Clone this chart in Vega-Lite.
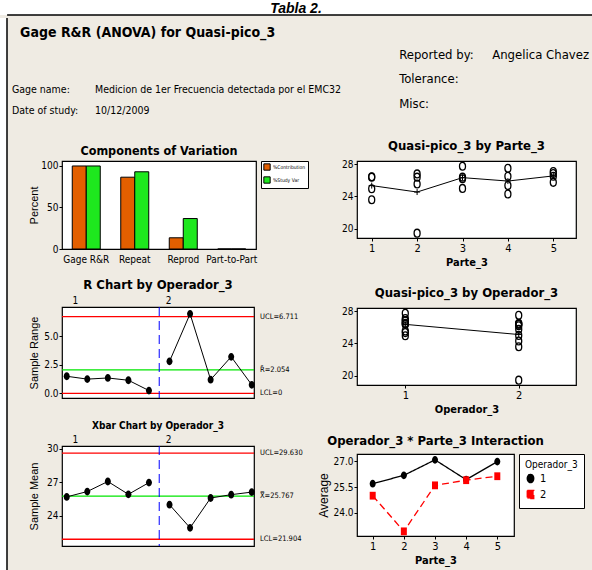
{
  "$schema": "https://vega.github.io/schema/vega-lite/v6.json",
  "padding": 0,
  "background": "#EFEBE3",
  "spacing": 0,
  "resolve": {"scale": {"color": "independent", "shape": "independent", "strokeDash": "independent"}},
  "datasets": {
    "comp": [
      {"component": "Gage R&R", "measure": "%Contribution", "percent": 100},
      {"component": "Gage R&R", "measure": "%Study Var", "percent": 100},
      {"component": "Repeat", "measure": "%Contribution", "percent": 86.5},
      {"component": "Repeat", "measure": "%Study Var", "percent": 93.0},
      {"component": "Reprod", "measure": "%Contribution", "percent": 13.5},
      {"component": "Reprod", "measure": "%Study Var", "percent": 36.7},
      {"component": "Part-to-Part", "measure": "%Contribution", "percent": 0},
      {"component": "Part-to-Part", "measure": "%Study Var", "percent": 0}
    ],
    "meas": [
      {"op": 1, "part": 1, "value": 24.95}, {"op": 1, "part": 1, "value": 26.45},
      {"op": 1, "part": 2, "value": 25.55}, {"op": 1, "part": 2, "value": 26.8},
      {"op": 1, "part": 3, "value": 26.4}, {"op": 1, "part": 3, "value": 27.75},
      {"op": 1, "part": 4, "value": 25.35}, {"op": 1, "part": 4, "value": 26.5},
      {"op": 1, "part": 5, "value": 26.85}, {"op": 1, "part": 5, "value": 27.1},
      {"op": 2, "part": 1, "value": 23.6}, {"op": 2, "part": 1, "value": 26.4},
      {"op": 2, "part": 2, "value": 19.45}, {"op": 2, "part": 2, "value": 26.4},
      {"op": 2, "part": 3, "value": 25.0}, {"op": 2, "part": 3, "value": 26.2},
      {"op": 2, "part": 4, "value": 24.3}, {"op": 2, "part": 4, "value": 27.5},
      {"op": 2, "part": 5, "value": 25.75}, {"op": 2, "part": 5, "value": 26.5}
    ],
    "summ": [
      {"op": 1, "part": 1, "idx": 1, "mean": 25.7, "range": 1.5},
      {"op": 1, "part": 2, "idx": 2, "mean": 26.18, "range": 1.25},
      {"op": 1, "part": 3, "idx": 3, "mean": 27.08, "range": 1.35},
      {"op": 1, "part": 4, "idx": 4, "mean": 25.93, "range": 1.15},
      {"op": 1, "part": 5, "idx": 5, "mean": 26.98, "range": 0.25},
      {"op": 2, "part": 1, "idx": 6, "mean": 25.0, "range": 2.8},
      {"op": 2, "part": 2, "idx": 7, "mean": 22.93, "range": 6.95},
      {"op": 2, "part": 3, "idx": 8, "mean": 25.6, "range": 1.2},
      {"op": 2, "part": 4, "idx": 9, "mean": 25.9, "range": 3.2},
      {"op": 2, "part": 5, "idx": 10, "mean": 26.13, "range": 0.75}
    ],
    "limR": [
      {"limit": "UCL", "value": 6.711, "label": "UCL=6.711"},
      {"limit": "Center", "value": 2.054, "label": "R̄=2.054"},
      {"limit": "LCL", "value": 0, "label": "LCL=0"}
    ],
    "limX": [
      {"limit": "UCL", "value": 29.63, "label": "UCL=29.630"},
      {"limit": "Center", "value": 25.767, "label": "X̿=25.767"},
      {"limit": "LCL", "value": 21.904, "label": "LCL=21.904"}
    ],
    "bound": [{"idx": 5.5}]
  },
  "vconcat": [
    {
      "width": 592,
      "height": 15,
      "view": {"fill": "white", "stroke": null},
      "data": {"values": [{"t": "Tabla 2."}]},
      "layer": [
        {
          "mark": {"type": "text", "fontSize": 14, "fontWeight": "bold", "fontStyle": "italic", "font": "Liberation Sans", "baseline": "alphabetic"},
          "encoding": {
            "text": {"field": "t"},
            "x": {"datum": 0.5, "type": "quantitative", "scale": {"domain": [0, 1]}, "axis": null},
            "y": {"datum": 0.12, "type": "quantitative", "scale": {"domain": [0, 1]}, "axis": null}
          }
        },
        {
          "mark": {"type": "rule", "color": "black", "strokeWidth": 1.5},
          "encoding": {
            "x": {"datum": 0.012, "type": "quantitative"},
            "x2": {"datum": 1},
            "y": {"datum": 0, "type": "quantitative"}
          }
        }
      ]
    },
    {
      "spacing": 0,
      "resolve": {"scale": {"color": "independent", "shape": "independent", "strokeDash": "independent"}},
      "hconcat": [
        {
          "width": 7,
          "height": 555,
          "view": {"fill": "white", "stroke": null},
          "data": {"values": [{}]},
          "mark": {"type": "rule", "color": "black", "strokeWidth": 1.5},
          "encoding": {
            "x": {"datum": 1, "type": "quantitative", "scale": {"domain": [0, 1]}, "axis": null},
            "y": {"datum": 0, "type": "quantitative", "scale": {"domain": [0, 1]}, "axis": null},
            "y2": {"datum": 1}
          }
        },
        {
          "spacing": 3,
          "resolve": {"scale": {"color": "independent", "shape": "independent", "strokeDash": "independent"}},
          "vconcat": [
            {
              "width": 585,
              "height": 118,
              "view": {"fill": null, "stroke": null},
              "data": {"values": [{}]},
              "encoding": {
                "x": {"datum": 0, "type": "quantitative", "scale": {"domain": [0, 100]}, "axis": null},
                "y": {"datum": 0, "type": "quantitative", "scale": {"domain": [0, 100], "reverse": true}, "axis": null}
              },
              "layer": [
                {"mark": {"type": "text", "align": "left", "baseline": "middle", "fontSize": 14, "fontWeight": "bold"},
                 "encoding": {"text": {"value": "Gage R&R (ANOVA) for Quasi-pico_3"}, "x": {"datum": 1.9}, "y": {"datum": 12.5}}},
                {"mark": {"type": "text", "align": "left", "baseline": "middle", "fontSize": 13},
                 "encoding": {"text": {"value": "Reported by:"}, "x": {"datum": 66.7}, "y": {"datum": 31}}},
                {"mark": {"type": "text", "align": "left", "baseline": "middle", "fontSize": 13},
                 "encoding": {"text": {"value": "Angelica Chavez"}, "x": {"datum": 82.6}, "y": {"datum": 31}}},
                {"mark": {"type": "text", "align": "left", "baseline": "middle", "fontSize": 13},
                 "encoding": {"text": {"value": "Tolerance:"}, "x": {"datum": 66.7}, "y": {"datum": 51.5}}},
                {"mark": {"type": "text", "align": "left", "baseline": "middle", "fontSize": 13},
                 "encoding": {"text": {"value": "Misc:"}, "x": {"datum": 66.7}, "y": {"datum": 72.5}}},
                {"mark": {"type": "text", "align": "left", "baseline": "middle", "fontSize": 10.5},
                 "encoding": {"text": {"value": "Gage name:"}, "x": {"datum": 0.5}, "y": {"datum": 61}}},
                {"mark": {"type": "text", "align": "left", "baseline": "middle", "fontSize": 10.5},
                 "encoding": {"text": {"value": "Medicion de 1er Frecuencia detectada por el EMC32"}, "x": {"datum": 14.7}, "y": {"datum": 61}}},
                {"mark": {"type": "text", "align": "left", "baseline": "middle", "fontSize": 10.5},
                 "encoding": {"text": {"value": "Date of study:"}, "x": {"datum": 0.5}, "y": {"datum": 79}}},
                {"mark": {"type": "text", "align": "left", "baseline": "middle", "fontSize": 10.5},
                 "encoding": {"text": {"value": "10/12/2009"}, "x": {"datum": 14.7}, "y": {"datum": 79}}}
              ]
            },
            {
              "spacing": 0,
              "resolve": {"scale": {"color": "independent", "shape": "independent", "strokeDash": "independent"}},
              "hconcat": [
                {
                  "width": 18,
                  "height": 1,
                  "view": {"fill": null, "stroke": null},
                  "data": {"values": [{}]},
                  "mark": {"type": "point", "opacity": 0, "size": 1},
                  "encoding": {
                    "x": {"datum": 0, "type": "quantitative", "axis": null},
                    "y": {"datum": 0, "type": "quantitative", "axis": null}
                  }
                },
                {
                  "spacing": 13,
                  "resolve": {"scale": {"color": "independent", "shape": "independent", "strokeDash": "independent"}},
                  "vconcat": [
                    {
                      "width": 194,
                      "height": 88,
                      "title": {"text": "Components of Variation", "fontSize": 12.5, "offset": 3},
                      "data": {"name": "comp"},
                      "encoding": {
                        "x": {"field": "component", "type": "nominal", "sort": ["Gage R&R", "Repeat", "Reprod", "Part-to-Part"],
                              "scale": {"paddingInner": 0.42, "paddingOuter": 0.21},
                              "axis": {"title": null, "labelAngle": 0, "ticks": false, "labelPadding": 5, "labelFontSize": 10}},
                        "y": {"field": "percent", "type": "quantitative", "scale": {"domain": [0, 106], "nice": false},
                              "axis": {"title": "Percent", "values": [0, 50, 100], "titleFont": "Liberation Sans", "titleFontSize": 11, "minExtent": 20, "maxExtent": 20}},
                        "color": {"field": "measure", "type": "nominal",
                                  "scale": {"domain": ["%Contribution", "%Study Var"], "range": ["#E35F00", "#1EE81E"]},
                                  "legend": {"title": null, "orient": "right", "offset": 5, "padding": 2, "strokeColor": "black", "fillColor": "white",
                                             "symbolType": "square", "symbolSize": 40, "symbolStrokeColor": "black", "symbolStrokeWidth": 1,
                                             "labelFontSize": 5, "rowPadding": 1, "labelOffset": 2}}
                      },
                      "layer": [
                        {
                          "transform": [{"filter": "datum.measure == '%Contribution'"}],
                          "mark": {"type": "bar", "width": 14, "xOffset": -7, "stroke": "black", "strokeWidth": 1}
                        },
                        {
                          "transform": [{"filter": "datum.measure == '%Study Var'"}],
                          "mark": {"type": "bar", "width": 14, "xOffset": 7, "stroke": "black", "strokeWidth": 1}
                        }
                      ]
                    },
                    {
                      "width": 192,
                      "height": 91,
                      "title": {"text": "R Chart by Operador_3", "fontSize": 13, "offset": 3},
                      "layer": [
                        {
                          "data": {"name": "limR"},
                          "mark": {"type": "rule", "strokeWidth": 1.3},
                          "encoding": {
                            "y": {"field": "value", "type": "quantitative", "scale": {"domain": [-0.4, 7.55], "nice": false, "zero": false},
                                  "axis": {"title": "Sample Range", "values": [0, 2.5, 5], "format": ".1f", "titleFont": "Liberation Sans", "titleFontSize": 11, "minExtent": 20, "maxExtent": 20}},
                            "color": {"field": "limit", "type": "nominal", "scale": {"domain": ["UCL", "Center", "LCL"], "range": ["#FF0000", "#00E600", "#FF0000"]}, "legend": null}
                          }
                        },
                        {
                          "data": {"name": "bound"},
                          "mark": {"type": "rule", "color": "#0000FF", "strokeDash": [9, 5], "strokeWidth": 1},
                          "encoding": {
                            "x": {"field": "idx", "type": "quantitative", "scale": {"domain": [0.77, 10.11], "nice": false, "zero": false},
                                  "axis": {"orient": "top", "values": [1.4, 5.93], "labelExpr": "datum.value < 3 ? '1' : '2'", "ticks": false, "title": null, "labelPadding": 2, "labelFontSize": 10}}
                          }
                        },
                        {
                          "data": {"name": "summ"},
                          "mark": {"type": "line", "color": "black", "strokeWidth": 1},
                          "encoding": {
                            "x": {"field": "idx", "type": "quantitative", "axis": {"orient": "top", "values": [1.4, 5.93], "labelExpr": "datum.value < 3 ? '1' : '2'", "ticks": false, "title": null, "labelPadding": 2, "labelFontSize": 10}},
                            "y": {"field": "range", "type": "quantitative"},
                            "detail": {"field": "op", "type": "nominal"}
                          }
                        },
                        {
                          "data": {"name": "summ"},
                          "mark": {"type": "point", "shape": "M0,-1.3A1,1.3 0 1,1 0,1.3A1,1.3 0 1,1 0,-1.3Z", "filled": true, "color": "black", "opacity": 1, "size": 36},
                          "encoding": {
                            "x": {"field": "idx", "type": "quantitative", "axis": {"orient": "top", "values": [1.4, 5.93], "labelExpr": "datum.value < 3 ? '1' : '2'", "ticks": false, "title": null, "labelPadding": 2, "labelFontSize": 10}},
                            "y": {"field": "range", "type": "quantitative"}
                          }
                        },
                        {
                          "data": {"name": "limR"},
                          "mark": {"type": "text", "align": "left", "baseline": "middle", "dx": 6, "fontSize": 7.5},
                          "encoding": {
                            "x": {"datum": 10.11, "type": "quantitative"},
                            "y": {"field": "value", "type": "quantitative"},
                            "text": {"field": "label"}
                          }
                        }
                      ]
                    },
                    {
                      "width": 192,
                      "height": 100,
                      "title": {"text": ["", "Xbar Chart by Operador_3"], "fontSize": 10, "lineHeight": 7, "offset": 3},
                      "layer": [
                        {
                          "data": {"name": "limX"},
                          "mark": {"type": "rule", "strokeWidth": 1.3},
                          "encoding": {
                            "y": {"field": "value", "type": "quantitative", "scale": {"domain": [21.3, 30.26], "nice": false, "zero": false},
                                  "axis": {"title": "Sample Mean", "values": [24, 27, 30], "format": "d", "titleFont": "Liberation Sans", "titleFontSize": 11, "minExtent": 20, "maxExtent": 20}},
                            "color": {"field": "limit", "type": "nominal", "scale": {"domain": ["UCL", "Center", "LCL"], "range": ["#FF0000", "#00E600", "#FF0000"]}, "legend": null}
                          }
                        },
                        {
                          "data": {"name": "bound"},
                          "mark": {"type": "rule", "color": "#0000FF", "strokeDash": [9, 5], "strokeWidth": 1},
                          "encoding": {
                            "x": {"field": "idx", "type": "quantitative", "scale": {"domain": [0.77, 10.11], "nice": false, "zero": false},
                                  "axis": {"orient": "top", "values": [1.4, 5.93], "labelExpr": "datum.value < 3 ? '1' : '2'", "ticks": false, "title": null, "labelPadding": 2, "labelFontSize": 10}}
                          }
                        },
                        {
                          "data": {"name": "summ"},
                          "mark": {"type": "line", "color": "black", "strokeWidth": 1},
                          "encoding": {
                            "x": {"field": "idx", "type": "quantitative", "axis": {"orient": "top", "values": [1.4, 5.93], "labelExpr": "datum.value < 3 ? '1' : '2'", "ticks": false, "title": null, "labelPadding": 2, "labelFontSize": 10}},
                            "y": {"field": "mean", "type": "quantitative"},
                            "detail": {"field": "op", "type": "nominal"}
                          }
                        },
                        {
                          "data": {"name": "summ"},
                          "mark": {"type": "point", "shape": "M0,-1.3A1,1.3 0 1,1 0,1.3A1,1.3 0 1,1 0,-1.3Z", "filled": true, "color": "black", "opacity": 1, "size": 36},
                          "encoding": {
                            "x": {"field": "idx", "type": "quantitative", "axis": {"orient": "top", "values": [1.4, 5.93], "labelExpr": "datum.value < 3 ? '1' : '2'", "ticks": false, "title": null, "labelPadding": 2, "labelFontSize": 10}},
                            "y": {"field": "mean", "type": "quantitative"}
                          }
                        },
                        {
                          "data": {"name": "limX"},
                          "mark": {"type": "text", "align": "left", "baseline": "middle", "dx": 6, "fontSize": 7.5},
                          "encoding": {
                            "x": {"datum": 10.11, "type": "quantitative"},
                            "y": {"field": "value", "type": "quantitative"},
                            "text": {"field": "label"}
                          }
                        }
                      ]
                    }
                  ]
                },
                {
                  "width": 5,
                  "height": 1,
                  "view": {"fill": null, "stroke": null},
                  "data": {"values": [{}]},
                  "mark": {"type": "point", "opacity": 0, "size": 1},
                  "encoding": {
                    "x": {"datum": 0, "type": "quantitative", "axis": null},
                    "y": {"datum": 0, "type": "quantitative", "axis": null}
                  }
                },
                {
                  "spacing": 18,
                  "resolve": {"scale": {"color": "independent", "shape": "independent", "strokeDash": "independent"}},
                  "vconcat": [
                    {
                      "width": 219,
                      "height": 77,
                      "title": {"text": "Quasi-pico_3 by Parte_3", "fontSize": 13, "offset": 6},
                      "data": {"name": "meas"},
                      "encoding": {
                        "x": {"field": "part", "type": "quantitative", "scale": {"domain": [0.676, 5.5], "nice": false, "zero": false},
                              "axis": {"values": [1, 2, 3, 4, 5], "format": "d", "title": "Parte_3", "titleFontWeight": "bold", "titleFontSize": 11, "labelFontSize": 11}}
                      },
                      "layer": [
                        {
                          "mark": {"type": "point", "shape": "M0,-1.3A1,1.3 0 1,1 0,1.3A1,1.3 0 1,1 0,-1.3Z", "filled": false, "stroke": "black", "strokeWidth": 1.3, "size": 36, "opacity": 1},
                          "encoding": {"y": {"field": "value", "type": "quantitative", "scale": {"domain": [18.85, 28.4], "nice": false, "zero": false}, "axis": {"values": [20, 24, 28], "title": null, "minExtent": 21, "maxExtent": 21}}}
                        },
                        {
                          "mark": {"type": "line", "color": "black", "strokeWidth": 1},
                          "encoding": {"y": {"aggregate": "mean", "field": "value", "type": "quantitative", "axis": {"values": [20, 24, 28], "title": null, "minExtent": 21, "maxExtent": 21}}}
                        },
                        {
                          "mark": {"type": "point", "shape": "M-1,0H1M0,-1V1", "filled": false, "stroke": "black", "strokeWidth": 1, "size": 36, "opacity": 1},
                          "encoding": {"y": {"aggregate": "mean", "field": "value", "type": "quantitative", "axis": {"values": [20, 24, 28], "title": null, "minExtent": 21, "maxExtent": 21}}}
                        }
                      ]
                    },
                    {
                      "width": 219,
                      "height": 77,
                      "title": {"text": "Quasi-pico_3 by Operador_3", "fontSize": 13, "offset": 6},
                      "data": {"name": "meas"},
                      "encoding": {
                        "x": {"field": "op", "type": "quantitative", "scale": {"domain": [0.574, 2.505], "nice": false, "zero": false},
                              "axis": {"values": [1, 2], "format": "d", "title": "Operador_3", "titleFontWeight": "bold", "titleFontSize": 11, "labelFontSize": 11}}
                      },
                      "layer": [
                        {
                          "mark": {"type": "point", "shape": "M0,-1.3A1,1.3 0 1,1 0,1.3A1,1.3 0 1,1 0,-1.3Z", "filled": false, "stroke": "black", "strokeWidth": 1.3, "size": 36, "opacity": 1},
                          "encoding": {"y": {"field": "value", "type": "quantitative", "scale": {"domain": [18.85, 28.4], "nice": false, "zero": false}, "axis": {"values": [20, 24, 28], "title": null, "minExtent": 21, "maxExtent": 21}}}
                        },
                        {
                          "mark": {"type": "line", "color": "black", "strokeWidth": 1},
                          "encoding": {"y": {"aggregate": "mean", "field": "value", "type": "quantitative", "axis": {"values": [20, 24, 28], "title": null, "minExtent": 21, "maxExtent": 21}}}
                        },
                        {
                          "mark": {"type": "point", "shape": "M-1,0H1M0,-1V1", "filled": false, "stroke": "black", "strokeWidth": 1, "size": 36, "opacity": 1},
                          "encoding": {"y": {"aggregate": "mean", "field": "value", "type": "quantitative", "axis": {"values": [20, 24, 28], "title": null, "minExtent": 21, "maxExtent": 21}}}
                        }
                      ]
                    },
                    {
                      "width": 157,
                      "height": 82,
                      "title": {"text": "Operador_3 * Parte_3 Interaction", "fontSize": 13, "offset": 6},
                      "data": {"name": "summ"},
                      "encoding": {
                        "x": {"field": "part", "type": "quantitative", "scale": {"domain": [0.496, 5.536], "nice": false, "zero": false},
                              "axis": {"values": [1, 2, 3, 4, 5], "format": "d", "title": "Parte_3", "titleFontWeight": "bold", "titleFontSize": 11, "labelFontSize": 11}},
                        "y": {"field": "mean", "type": "quantitative", "scale": {"domain": [22.66, 27.42], "nice": false, "zero": false},
                              "axis": {"values": [24, 25.5, 27], "format": ".1f", "title": "Average", "titleFont": "Liberation Sans", "titleFontSize": 12, "minExtent": 24, "maxExtent": 24}},
                        "color": {"field": "op", "type": "nominal", "scale": {"domain": [1, 2], "range": ["black", "#FF0000"]},
                                  "legend": {"title": "Operador_3", "orient": "right", "offset": 5, "padding": 6, "strokeColor": "black", "fillColor": "white",
                                             "titleFontWeight": "normal", "titleFontSize": 10, "labelFontSize": 11, "rowPadding": 1, "titlePadding": 3, "symbolSize": 40}}
                      },
                      "layer": [
                        {
                          "mark": {"type": "line", "strokeWidth": 1.3},
                          "encoding": {"strokeDash": {"field": "op", "type": "nominal", "scale": {"domain": [1, 2], "range": [[1, 0], [7, 4]]}, "legend": null}}
                        },
                        {
                          "mark": {"type": "point", "filled": true, "size": 36, "opacity": 1},
                          "encoding": {"shape": {"field": "op", "type": "nominal", "scale": {"domain": [1, 2], "range": ["M0,-1.3A1,1.3 0 1,1 0,1.3A1,1.3 0 1,1 0,-1.3Z", "M-1,-1.3H1V1.3H-1Z"]},
                                                 "legend": {"title": "Operador_3", "symbolSize": 40}}}
                        }
                      ]
                    }
                  ]
                }
              ]
            }
          ]
        }
      ]
    }
  ],
  "config": {
    "font": "Liberation Sans Narrow, DejaVu Sans Condensed, sans-serif",
    "view": {"fill": "white", "stroke": "black", "strokeWidth": 1.2},
    "axis": {
      "labelFont": "Liberation Sans Narrow, DejaVu Sans Condensed, sans-serif",
      "titleFont": "Liberation Sans Narrow, DejaVu Sans Condensed, sans-serif",
      "labelFontSize": 10,
      "titleFontSize": 11,
      "titleFontWeight": "normal",
      "labelColor": "black",
      "titleColor": "black",
      "tickColor": "black",
      "domain": false,
      "grid": false,
      "tickSize": 3,
      "labelPadding": 1,
      "titlePadding": 3
    },
    "title": {"font": "Liberation Sans Narrow, DejaVu Sans Condensed, sans-serif", "fontWeight": "bold", "color": "black"},
    "legend": {"labelFont": "Liberation Sans Narrow, DejaVu Sans Condensed, sans-serif", "titleFont": "Liberation Sans Narrow, DejaVu Sans Condensed, sans-serif", "labelColor": "black", "titleColor": "black"},
    "text": {"font": "Liberation Sans Narrow, DejaVu Sans Condensed, sans-serif", "color": "black"}
  }
}
